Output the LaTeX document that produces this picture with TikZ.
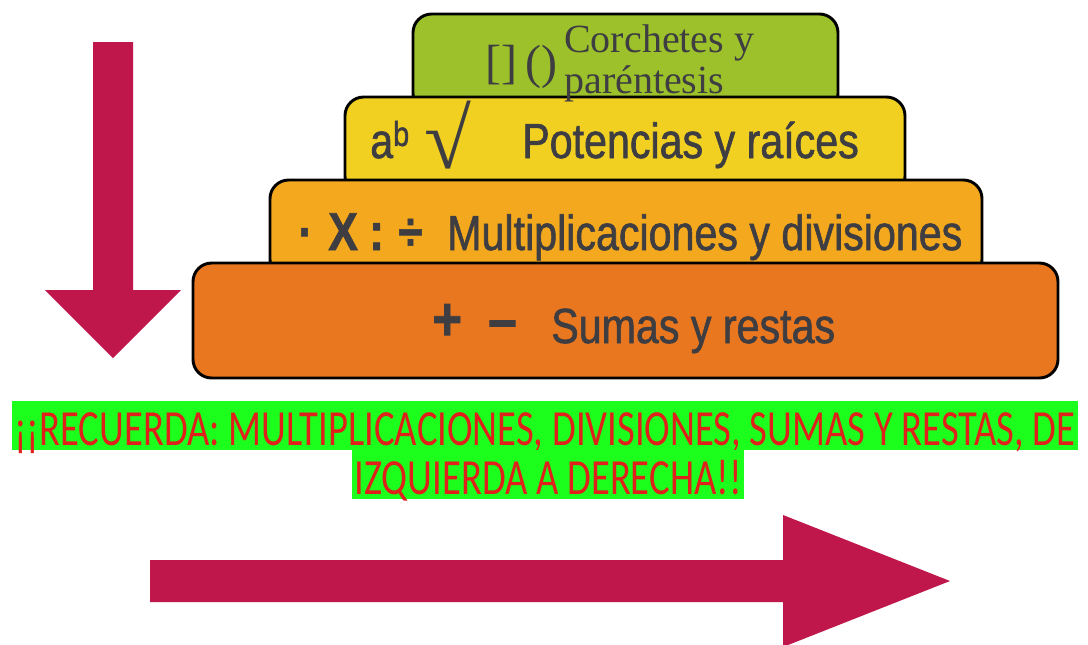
\documentclass[tikz,border=0pt]{standalone}
\usepackage{fontspec}
\setmainfont{Liberation Serif}
\newfontfamily\tiersans[FakeStretch=0.835,FakeBold=1.2]{Liberation Sans}
\newfontfamily\notesans[FakeStretch=0.762]{Carlito}
\definecolor{tiergreen}{HTML}{9DC12B}
\definecolor{tieryellow}{HTML}{F1D022}
\definecolor{tiergold}{HTML}{F4A81D}
\definecolor{tierorange}{HTML}{E8771F}
\definecolor{labelgray}{HTML}{3D3D42}
\definecolor{notered}{HTML}{E0201B}
\definecolor{notegreen}{HTML}{1CFF1C}
\definecolor{arrowred}{HTML}{BF164C}
\tikzset{
  tier/.style={draw=black, line width=2.2pt, rounded corners=14pt},
  tierlabel/.style={anchor=base west, inner sep=0pt, text=labelgray,
    font=\tiersans\fontsize{37}{37}\selectfont},
  symlabel/.style={tierlabel, font=\tiersans\bfseries\fontsize{40}{40}\selectfont},
  seriflabel/.style={anchor=base west, inner sep=0pt, text=labelgray,
    font=\fontsize{30}{30}\selectfont},
  note/.style={anchor=base, fill=notegreen, text=notered, inner xsep=2pt,
    inner ysep=0pt, text height=33pt, text depth=3.5pt,
    font=\notesans\fontsize{38}{38}\selectfont}
}

\begin{document}
\begin{tikzpicture}[x=0.75pt,y=-0.75pt]
  \useasboundingbox[fill=white] (0,0) rectangle (1088,644);
  % pyramid, top tier first so each lower tier covers the one above
  \draw[tier, fill=tiergreen] (413,14) rectangle (838,112);
  \draw[tier, fill=tieryellow] (345,97) rectangle (905,195);
  \draw[tier, fill=tiergold] (270,180) rectangle (982,278);
  \draw[tier, fill=tierorange] (193,263) rectangle (1058,378);

  % tier texts
  \node[seriflabel, font=\fontsize{36}{36}\selectfont] (brackets) at (485,78) {[]\,()};
  \node[seriflabel] (corchetes) at (564,52) {Corchetes y};
  \node[seriflabel] (parentesis) at (564,93) {paréntesis};

  \node[tierlabel] (power) at (370,158) {a\textsuperscript{b}};
  \node[seriflabel, font=\fontsize{64}{64}\selectfont] (root) at (424,168) {√};
  \node[tierlabel] (potencias) at (522,158) {Potencias y raíces};

  \node[symlabel] (dot) at (298,250) {·};
  \node[symlabel] (times) at (328,250) {X};
  \node[symlabel] (colon) at (369,250) {:};
  \node[symlabel] (divide) at (398,250) {÷};
  \node[tierlabel] (multiplica) at (447,250) {Multiplicaciones y divisiones};

  \node[symlabel, font=\tiersans\bfseries\fontsize{46}{46}\selectfont] (plus) at (432,340) {+};
  \node[symlabel, font=\tiersans\bfseries\fontsize{46}{46}\selectfont] (minus) at (488,340) {–};
  \node[tierlabel] (sumas) at (551,343) {Sumas y restas};

  % reminder
  \node[note] (recuerda) at (545,445) {¡¡RECUERDA: MULTIPLICACIONES, DIVISIONES, SUMAS Y RESTAS, DE};
  \node[note] (izquierda) at (548,494) {IZQUIERDA A DERECHA!!};

  % order arrows
  \fill[arrowred] (93,42) -- (133,42) -- (133,290) -- (181,290) -- (113,358)
    -- (45,290) -- (93,290) -- cycle;
  \fill[arrowred] (150,560) -- (783,560) -- (783,515) -- (950,581) -- (783,647)
    -- (783,602) -- (150,602) -- cycle;
\end{tikzpicture}
\end{document}
